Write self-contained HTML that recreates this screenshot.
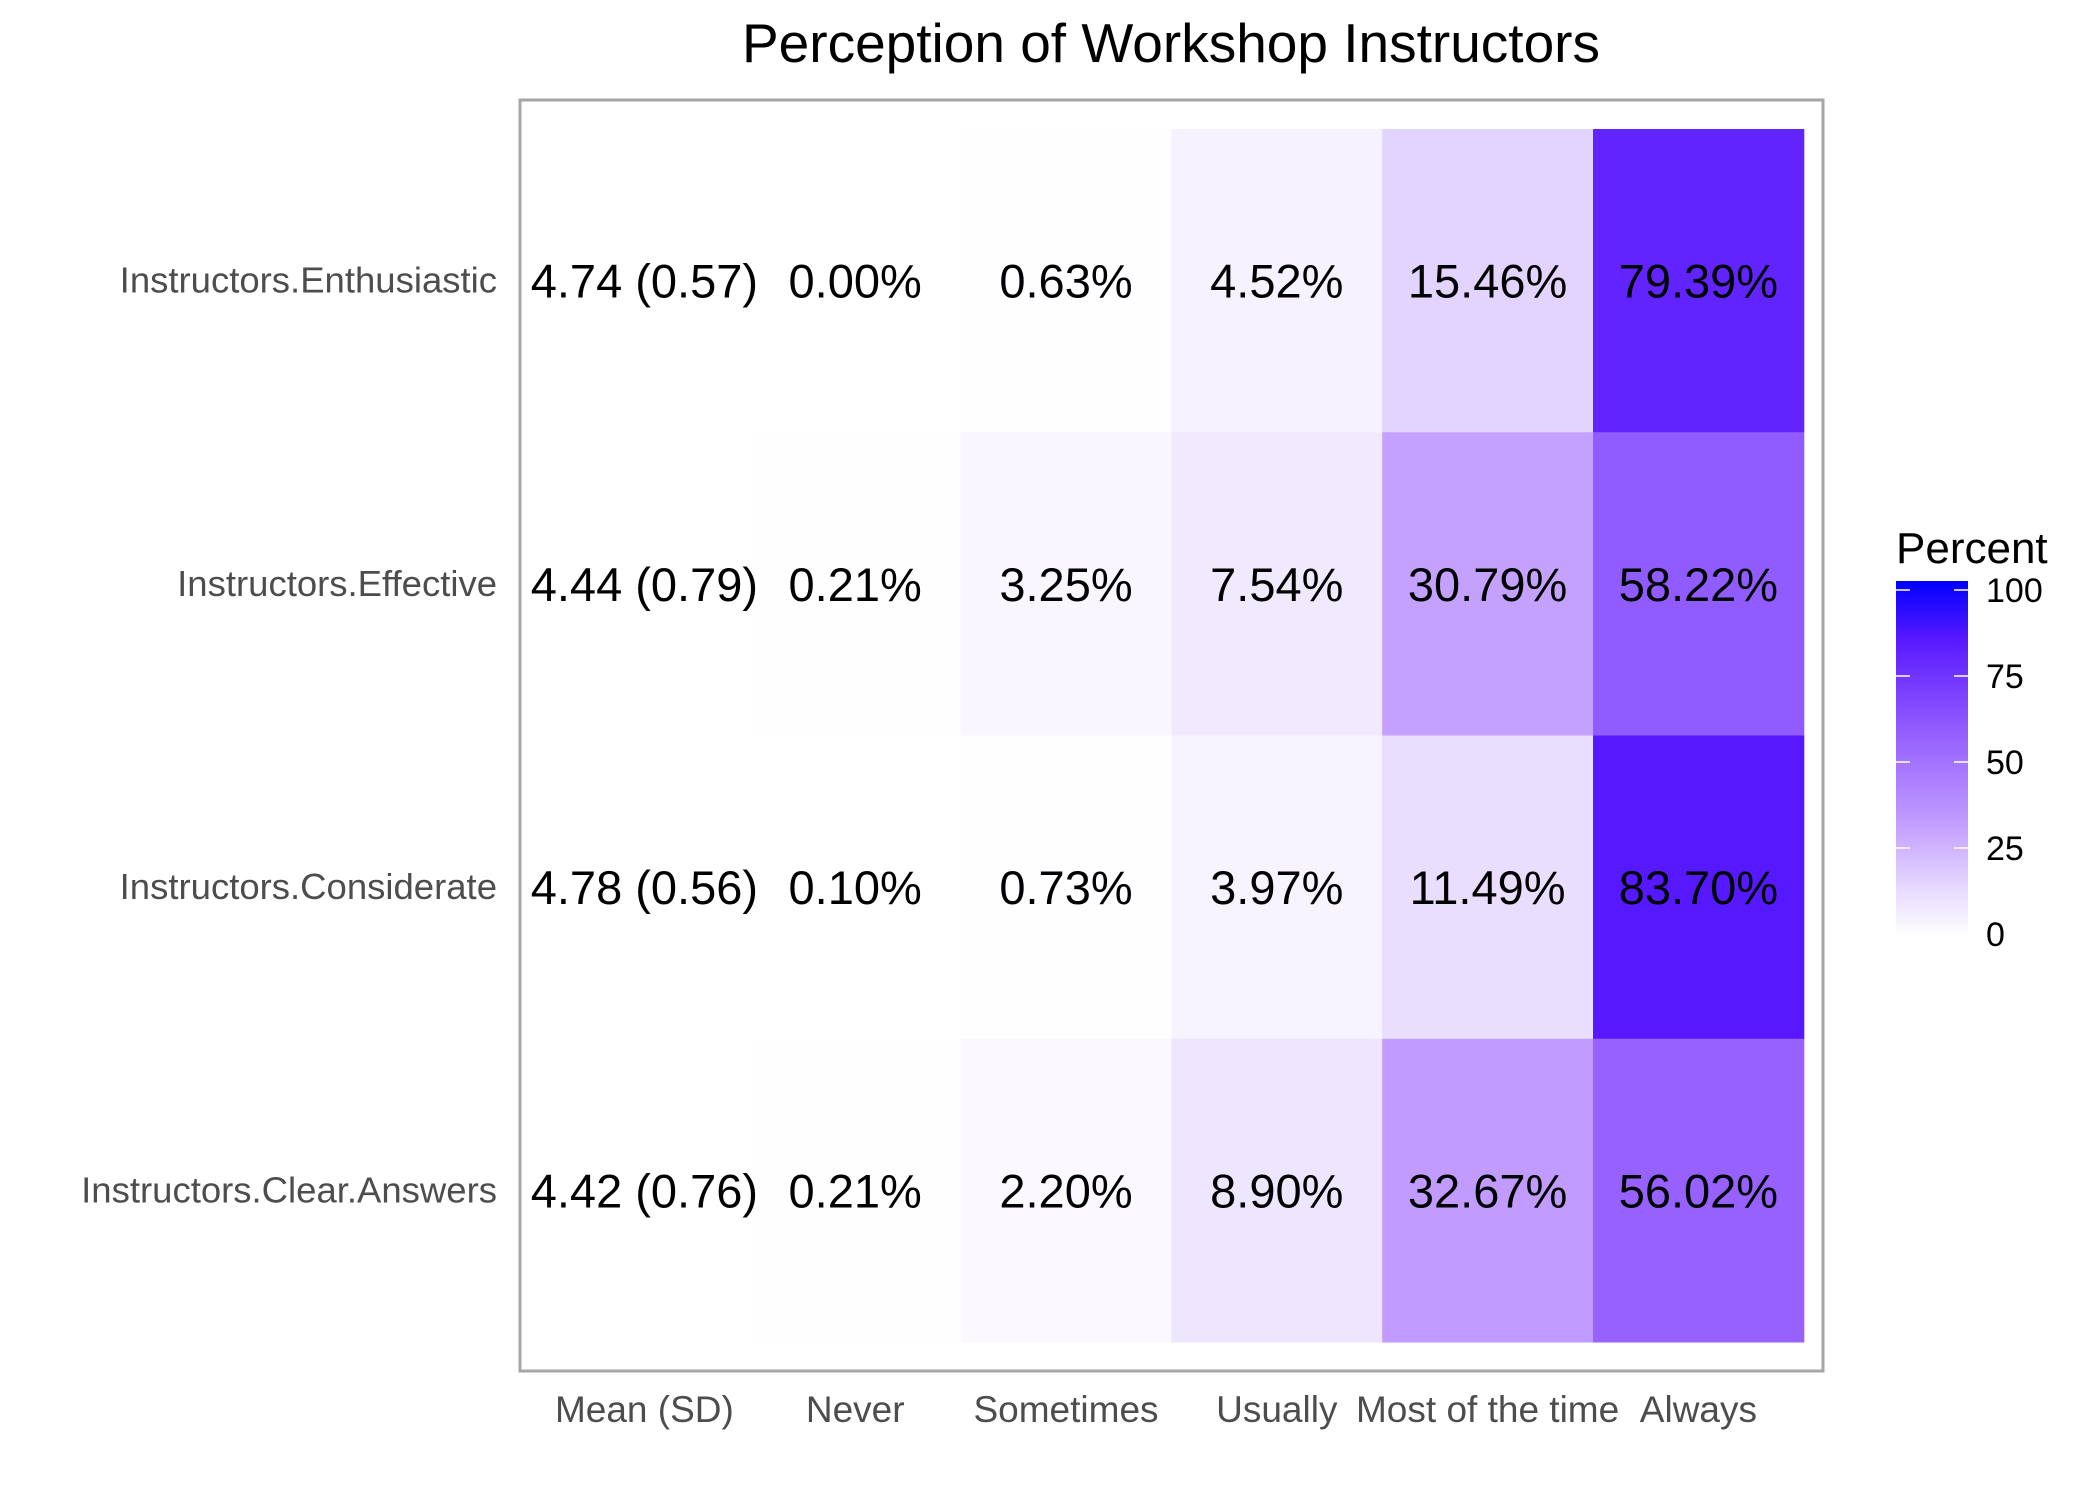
<!DOCTYPE html>
<html><head><meta charset="utf-8"><style>
html,body{margin:0;padding:0;background:#fff;}
svg{display:block;font-family:"Liberation Sans",Arial,sans-serif;}
</style></head><body>
<svg id="chart" width="2099" height="1499" viewBox="0 0 2099 1499">
<defs>
<linearGradient id="lg" x1="0" y1="1" x2="0" y2="0">
<stop offset="0" stop-color="#ffffff"/><stop offset="0.155" stop-color="#e2d3ff"/><stop offset="0.31" stop-color="#c49fff"/><stop offset="0.57" stop-color="#945fff"/><stop offset="0.80" stop-color="#6022ff"/><stop offset="0.84" stop-color="#5518ff"/><stop offset="1" stop-color="#0000ff"/>
</linearGradient>
</defs>
<text x="1171" y="62" font-size="55" text-anchor="middle" fill="#000">Perception of Workshop Instructors</text>
<g id="tiles"></g>
<rect x="520" y="100" width="1303" height="1271" fill="none" stroke="#a6a6a6" stroke-width="3"/>
<g id="labels"></g>
<g>
<text x="1896" y="563" font-size="44" fill="#000">Percent</text>
<rect x="1896" y="581" width="72" height="355" fill="url(#lg)"/>
<g id="legticks"></g>
</g>
</svg>
<script>
const rowsLabels = ["Instructors.Enthusiastic","Instructors.Effective","Instructors.Considerate","Instructors.Clear.Answers"];
const colLabels = ["Mean (SD)","Never","Sometimes","Usually","Most of the time","Always"];
const meanSD = ["4.74 (0.57)","4.44 (0.79)","4.78 (0.56)","4.42 (0.76)"];
const never = [0.00,0.21,0.10,0.21];
const sometimes = [0.63,3.25,0.73,2.20];
const usually = [4.52,7.54,3.97,8.90];
const mostTime = [15.46,30.79,11.49,32.67];
const always = [79.39,58.22,83.70,56.02];
const legendTicks = [0,25,50,75,100];

const NS="http://www.w3.org/2000/svg";
const colX0=539, colW=210.8, rowY0=129, rowH=303.25;
function xCol(i){return colX0+i*colW;}
function yRow(i){return rowY0+i*rowH;}
function yLeg(v){return 934-v*3.44;}
const stops=[[0,[255,255,255]],[15.5,[226,211,255]],[31,[196,159,255]],[57,[148,95,255]],[80,[96,34,255]],[84,[85,24,255]],[100,[0,0,255]]];
function color(v){
  for(let i=1;i<stops.length;i++){
    if(v<=stops[i][0]){const a=stops[i-1],b=stops[i];const t=(v-a[0])/(b[0]-a[0]);
      const c=a[1].map((x,k)=>Math.round(x+(b[1][k]-x)*t));return `rgb(${c.join(',')})`;}
  }
  return "rgb(0,0,255)";
}
function mk(tag,attrs,parent){const e=document.createElementNS(NS,tag);for(const k in attrs)e.setAttribute(k,attrs[k]);parent.appendChild(e);return e;}
const tiles=document.getElementById('tiles'), labels=document.getElementById('labels');
const series=[never,sometimes,usually,mostTime,always];
const sNames=["never","sometimes","usually","most-of-the-time","always"];
series.forEach((arr,si)=>{
  arr.forEach((v,ri)=>{
    const r=mk('rect',{x:xCol(si+1),y:yRow(ri),width:colW+0.5,height:rowH+0.5,fill:color(v)},tiles);
    
    
    const t=mk('text',{x:xCol(si+1)+colW/2,y:yRow(ri)+rowH/2+17,'font-size':47,'text-anchor':'middle',fill:'#000'},labels);
    t.textContent=v.toFixed(2)+'%';
    
    
  });
});
meanSD.forEach((s,ri)=>{
  const t=mk('text',{x:xCol(0)+colW/2,y:yRow(ri)+rowH/2+17,'font-size':47,'text-anchor':'middle',fill:'#000'},labels);
  t.textContent=s;
  
  
});
rowsLabels.forEach((s,ri)=>{
  const t=mk('text',{x:497,y:yRow(ri)+rowH/2+12,'font-size':36.5,'text-anchor':'end',fill:'#4d4d4d'},labels);
  t.textContent=s;
  
  
});
colLabels.forEach((s,ci)=>{
  const t=mk('text',{x:xCol(ci)+colW/2,y:1422,'font-size':37,'text-anchor':'middle',fill:'#4d4d4d'},labels);
  t.textContent=s;
  
  
});
const lt=document.getElementById('legticks');
legendTicks.forEach(v=>{
  const y=yLeg(v);
  if(v>0){
    const a=mk('line',{x1:1896,x2:1910,y1:y,y2:y,stroke:'#fff','stroke-width':1.5},lt);
    
    
    const b=mk('line',{x1:1954,x2:1968,y1:y,y2:y,stroke:'#fff','stroke-width':1.5},lt);
    
    
  }
  const t=mk('text',{x:1986,y:y+12,'font-size':34,fill:'#000'},lt);
  t.textContent=v;
  
  
});
</script>
</body></html>
